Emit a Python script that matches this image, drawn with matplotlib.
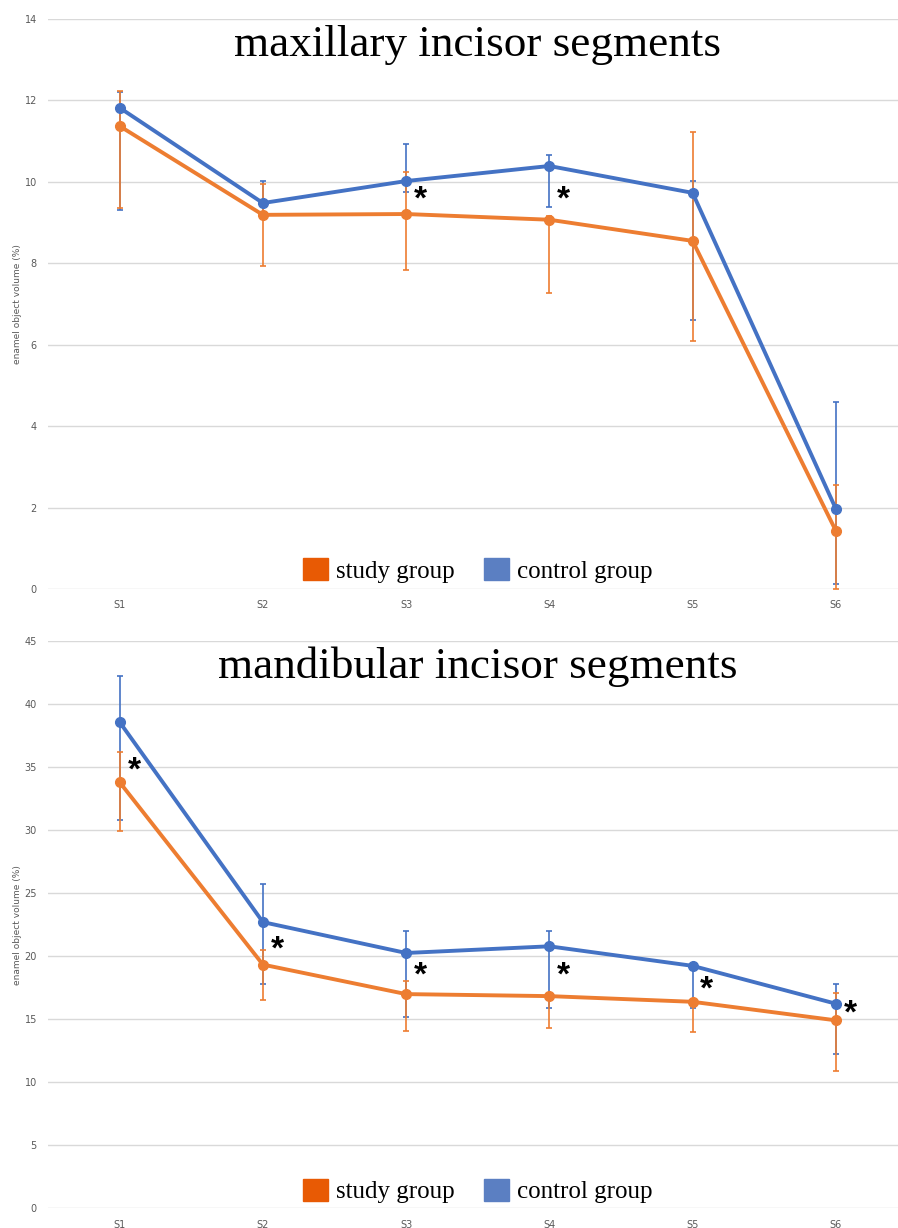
import matplotlib.pyplot as plt
from matplotlib.patches import Patch

segments = ['S1', 'S2', 'S3', 'S4', 'S5', 'S6']

# maxillary incisors
max_study = [11.37, 9.19, 9.21, 9.07, 8.55, 1.43]
max_study_lo = [9.36, 7.94, 7.84, 7.28, 6.09, 0.0]
max_study_hi = [12.24, 9.95, 10.25, 9.15, 11.22, 2.55]
max_control = [11.82, 9.48, 10.02, 10.39, 9.73, 1.97]
max_control_lo = [9.30, 9.25, 9.75, 9.39, 6.61, 0.12]
max_control_hi = [12.2, 10.02, 10.94, 10.66, 10.02, 4.60]
max_star_idx = [2, 3]
max_star_y = [9.55, 9.55]

# mandibular incisors
man_study = [33.8, 19.34, 17.0, 16.84, 16.39, 14.92]
man_study_lo = [29.9, 16.5, 14.08, 14.29, 13.97, 10.87]
man_study_hi = [36.2, 20.47, 18.03, 17.0, 16.6, 17.1]
man_control = [38.57, 22.71, 20.26, 20.79, 19.24, 16.24]
man_control_lo = [30.8, 17.79, 15.21, 15.89, 15.89, 12.26]
man_control_hi = [42.2, 25.71, 21.97, 21.97, 19.3, 17.82]
man_star_idx = [0, 1, 2, 3, 4, 5]
man_star_y = [34.7, 20.5, 18.45, 18.45, 17.35, 15.4]

ORANGE = '#ED7D31'
BLUE = '#4472C4'
LEG_ORANGE = '#E85A04'
LEG_BLUE = '#5B7FC2'


def draw_panel(ax, title, study, s_lo, s_hi, control, c_lo, c_hi,
               star_idx, star_y, ymax, step, legend_y):
    x = list(range(len(segments)))
    for vals, lo, hi, col in [(control, c_lo, c_hi, BLUE), (study, s_lo, s_hi, ORANGE)]:
        err = [[v - l for v, l in zip(vals, lo)], [h - v for v, h in zip(vals, hi)]]
        ax.errorbar(x, vals, yerr=err, color=col, lw=2.8, marker='o', ms=7,
                    elinewidth=1.2, capsize=2.5, capthick=1.2, zorder=3)
    for i, y in zip(star_idx, star_y):
        ax.text(i + 0.1, y, '*', fontsize=24, fontweight='bold', ha='center',
                va='center', color='black', family='Liberation Sans', zorder=5)
    ax.set_xlim(-0.5, len(segments) - 0.5)
    ax.set_ylim(0, ymax)
    ax.set_yticks(range(0, ymax + 1, step))
    ax.set_xticks(x)
    ax.set_xticklabels(segments)
    ax.grid(axis='y', color='#D9D9D9', lw=1)
    ax.set_axisbelow(True)
    for s in ax.spines.values():
        s.set_visible(False)
    ax.tick_params(length=0, labelsize=7, colors='#595959', pad=8)
    ax.set_ylabel('enamel object volume (%)', fontsize=6.5, color='#595959', labelpad=2)
    ax.text(0.5, 0.955, title, transform=ax.transAxes, ha='center', va='center',
            fontsize=32.5, family='Liberation Serif')
    handles = [Patch(color=LEG_ORANGE, label='study group'),
               Patch(color=LEG_BLUE, label='control group')]
    ax.legend(handles=handles, loc='center', bbox_to_anchor=(0.5, legend_y), ncol=2,
              frameon=False, prop={'family': 'Liberation Serif', 'size': 18},
              handlelength=1.0, handleheight=1.0, handletextpad=0.3, columnspacing=1.2)


fig = plt.figure(figsize=(8.98, 12.28), dpi=100)
ax1 = fig.add_axes([0.0535, 0.5204, 0.957, 0.4641])
ax2 = fig.add_axes([0.0535, 0.0159, 0.957, 0.4621])

draw_panel(ax1, 'maxillary incisor segments', max_study, max_study_lo, max_study_hi,
           max_control, max_control_lo, max_control_hi, max_star_idx, max_star_y, 14, 2, 0.033)
draw_panel(ax2, 'mandibular incisor segments', man_study, man_study_lo, man_study_hi,
           man_control, man_control_lo, man_control_hi, man_star_idx, man_star_y, 45, 5, 0.031)

fig.savefig('out.png', dpi=100)
